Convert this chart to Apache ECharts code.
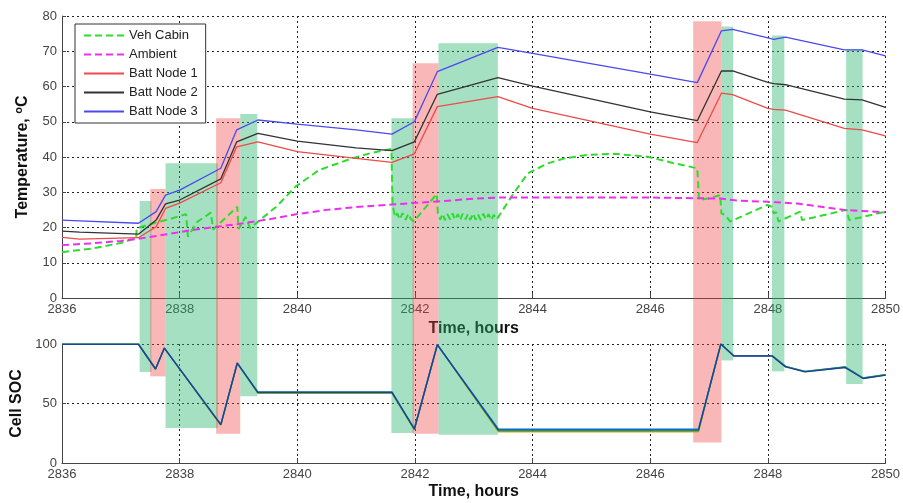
<!DOCTYPE html>
<html>
<head>
<meta charset="utf-8">
<title>Battery temperature and SOC</title>
<script src="https://cdn.jsdelivr.net/npm/echarts@6.0.0/dist/echarts.min.js"></script>
<style>
  html, body { margin: 0; padding: 0; background: #fff; }
  #chart { width: 903px; height: 503px; }
</style>
</head>
<body>
<div id="chart"></div>
<script>
// ---- data ----
const xTicks = [2836, 2850];   // time range, hours

// battery node temperatures (degC)
const battTime = [2836, 2836.3, 2837.3, 2837.6, 2837.76, 2838, 2838.7, 2838.97, 2839.33, 2840, 2841, 2841.61, 2841.99, 2842.38, 2843.41, 2844, 2846, 2846.8, 2847.21, 2847.4, 2848, 2848.1, 2848.3, 2849.3, 2849.6, 2850];
const battNode1 = [17.2, 16.7, 17.1, 20.2, 25.4, 26.9, 32.7, 42.9, 44.3, 41.5, 39.6, 38.5, 40.9, 54.3, 57.1, 53.8, 46.5, 44.1, 58.1, 57.7, 53.8, 53.5, 53.3, 48.1, 47.7, 46.0];
const battNode2 = [19.0, 18.7, 18.1, 22.1, 26.7, 27.8, 33.8, 44.3, 46.7, 44.5, 42.6, 41.8, 44.3, 57.8, 62.5, 60.1, 52.8, 50.3, 64.4, 64.4, 61.2, 60.8, 60.5, 56.4, 56.2, 54.1];
const battNode3 = [22.1, 21.9, 21.2, 24.5, 29.2, 30.6, 36.8, 47.7, 50.5, 49.3, 47.7, 46.5, 50.0, 64.2, 71.1, 69.4, 63.5, 61.1, 75.8, 76.2, 73.8, 73.4, 74.0, 70.4, 70.4, 68.7];

// ambient
const ambTime = [2836, 2836.5, 2837, 2837.3, 2837.75, 2838.3, 2839, 2839.5, 2840, 2840.5, 2841, 2841.6, 2842, 2842.5, 2843, 2843.4, 2844, 2846, 2847.2, 2847.5, 2848, 2848.5, 2849.3, 2850];
const ambTemp = [15.0, 15.5, 16.2, 16.8, 18.0, 19.5, 21.0, 22.3, 23.8, 25.0, 25.8, 26.5, 27.0, 27.5, 28.2, 28.5, 28.5, 28.5, 28.2, 27.6, 27.3, 26.8, 25.0, 24.3];

// vehicle cabin
const cabinTime = [2836, 2836.5, 2837.0, 2837.26, 2837.27, 2837.6, 2837.85, 2838.11, 2838.14, 2838.3, 2838.53, 2838.57, 2838.98, 2839.0, 2839.12, 2839.2, 2839.3, 2839.65, 2839.97, 2840.37, 2840.93, 2841.27, 2841.6,
  2841.62, 2841.66, 2841.7, 2841.74, 2841.79, 2841.84, 2841.89, 2841.93, 2841.98, 2842.37, 2842.39,
  2842.43, 2842.47, 2842.51, 2842.55, 2842.6, 2842.64, 2842.68, 2842.73, 2842.77, 2842.81, 2842.86, 2842.9, 2842.94, 2842.99, 2843.03, 2843.07, 2843.12, 2843.16, 2843.21, 2843.25, 2843.3, 2843.34, 2843.39,
  2843.65, 2843.92, 2844.26, 2844.54, 2844.94, 2845.39, 2845.95, 2846.41, 2846.8, 2846.83, 2847.0, 2847.19, 2847.21, 2847.27, 2847.3, 2847.36, 2847.99, 2848.07, 2848.1, 2848.14, 2848.18, 2848.55, 2848.58, 2849.34, 2849.38, 2850.0];
const cabinTemp = [13.0, 14.0, 15.6, 17.0, 19.8, 21.4, 22.5, 23.8, 17.4, 21.6, 24.2, 19.4, 25.9, 19.6, 23.0, 19.8, 21.2, 26.0, 31.6, 36.3, 39.6, 41.2, 42.3,
  26.4, 23.0, 24.0, 22.3, 24.1, 22.2, 23.9, 22.4, 21.7, 29.5, 24.0,
  22.2, 23.9, 22.1, 23.8, 22.3, 24.0, 22.2, 23.8, 22.1, 23.9, 22.3, 23.8, 22.2, 24.0, 22.2, 23.7, 22.1, 23.9, 22.3, 23.8, 22.1, 23.6, 22.3,
  29.0, 35.4, 38.2, 39.6, 40.6, 40.9, 40.1, 38.2, 36.8, 27.8, 28.3, 29.2, 24.0, 23.6, 24.0, 21.7, 26.4, 25.9, 24.0, 24.4, 21.7, 24.5, 22.1, 25.0, 22.1, 24.5];

// cell state of charge (%)
const socTime = [2836, 2837.3, 2837.59, 2837.74, 2838.7, 2838.98, 2839.33, 2841.61, 2841.99, 2842.38, 2843.42, 2846.82, 2847.2, 2847.42, 2848.07, 2848.3, 2848.63, 2849.31, 2849.62, 2850];
const socCellYellow = [100, 100, 79, 96.6, 31.6, 84, 58.6, 58.6, 27.8, 99.4, 26.2, 26.2, 100, 90.2, 90.2, 81.0, 76.8, 80.5, 71.2, 74.0];
const socCellCyan = [100, 100, 79, 96.6, 32.6, 84, 59.8, 59.8, 29.0, 99.4, 28.6, 28.6, 100, 90.2, 90.2, 81.2, 77.0, 80.7, 71.4, 74.2];
const socCellGreen = [100, 100, 79, 96.6, 32.0, 84, 58.9, 58.9, 28.6, 99.4, 27.0, 27.0, 100, 90.2, 90.2, 81.2, 77.0, 80.7, 71.4, 74.2];
const socCellBlue = [99.7, 99.7, 79, 96.6, 32.2, 84, 59.4, 59.4, 28.4, 99.4, 27.8, 27.8, 100, 89.9, 89.9, 80.8, 76.6, 80.3, 71.0, 73.8];

// shaded windows: drive (green) and charge (pink); top edge in degC, bottom edge in SOC
const driveStart = [2837.32, 2837.76, 2839.03, 2841.60, 2842.40, 2847.21, 2848.07, 2849.33];
const driveEnd = [2837.52, 2838.65, 2839.32, 2841.98, 2843.41, 2847.41, 2848.28, 2849.61];
const driveTop = [27.5, 38.2, 52.2, 51.0, 72.3, 77.0, 74.5, 70.6];
const driveBottom = [76.5, 29.4, 56.0, 25.2, 23.8, 86.2, 77.0, 66.4];
const chargeStart = [2837.50, 2838.62, 2841.96, 2846.73];
const chargeEnd = [2837.76, 2839.03, 2842.40, 2847.21];
const chargeTop = [30.9, 51.0, 66.6, 78.5];
const chargeBottom = [72.8, 24.6, 24.6, 17.3];

// ---- layout ----
const TOP_GRID = { left: 62, right: 14, top: 16, height: 282 };
const BOT_GRID = { left: 62, right: 14, top: 344, height: 119 };
const GRID_GAP = BOT_GRID.top - (TOP_GRID.top + TOP_GRID.height);

const FONT = 'Liberation Sans, Arial, sans-serif';
const GREEN_FILL = 'rgba(40,180,110,0.42)';
const PINK_FILL = 'rgba(240,60,60,0.37)';

function zip(xs, ys) {
  return xs.map((x, i) => [x, ys[i]]);
}

function xAxisOf(gridIndex) {
  return {
    type: 'value', gridIndex: gridIndex,
    min: xTicks[0], max: xTicks[1], interval: 2,
    name: 'Time, hours', nameLocation: 'middle', nameGap: gridIndex === 0 ? 22 : 21,
    nameTextStyle: { fontFamily: FONT, fontWeight: 'bold', fontSize: 16, color: '#111' },
    axisLine: { lineStyle: { color: '#444', width: 1 } },
    axisTick: { inside: true, length: 5, lineStyle: { color: '#444' } },
    axisLabel: { fontFamily: FONT, fontSize: 13, color: '#444', margin: 5, formatter: v => String(v) },
    splitLine: { show: true, lineStyle: { color: '#222', type: [2, 3], width: 1 } }
  };
}

function yAxisOf(gridIndex, max, interval) {
  return {
    type: 'value', gridIndex: gridIndex, min: 0, max: max, interval: interval,
    nameLocation: 'middle',
    axisLine: { show: true, lineStyle: { color: '#444', width: 1 } },
    axisTick: { show: true, inside: true, length: 4, lineStyle: { color: '#444' } },
    axisLabel: { fontFamily: FONT, fontSize: 13, color: '#444', margin: 5 },
    splitLine: { show: true, lineStyle: { color: '#222', type: [2, 3], width: 1 } }
  };
}

// top part of a window: from its top temperature down across the gap to the SOC plot
function topWindow(fill) {
  return function (params, api) {
    const p0 = api.coord([api.value(0), api.value(2)]);
    const p1 = api.coord([api.value(1), 0]);
    return {
      type: 'rect',
      shape: { x: p0[0], y: p0[1], width: p1[0] - p0[0], height: p1[1] + GRID_GAP - p0[1] },
      style: { fill: fill }
    };
  };
}

// bottom part of a window: from the SOC plot top down to its bottom SOC
function bottomWindow(fill) {
  return function (params, api) {
    const p0 = api.coord([api.value(0), 100]);
    const p1 = api.coord([api.value(1), api.value(2)]);
    return {
      type: 'rect',
      shape: { x: p0[0], y: p0[1], width: p1[0] - p0[0], height: p1[1] - p0[1] },
      style: { fill: fill }
    };
  };
}

function windowSeries(gridIndex, starts, ends, edges, fill) {
  return {
    type: 'custom', xAxisIndex: gridIndex, yAxisIndex: gridIndex,
    clip: false, silent: true, z: 1,
    renderItem: gridIndex === 0 ? topWindow(fill) : bottomWindow(fill),
    encode: { x: [0, 1], y: 2 },
    data: starts.map((s, i) => [s, ends[i], edges[i]])
  };
}

function tempLine(name, xs, ys, color, width, dashed) {
  return {
    name: name, type: 'line', xAxisIndex: 0, yAxisIndex: 0,
    symbol: 'none', z: 3,
    lineStyle: { color: color, width: width, type: dashed ? [7, 4] : 'solid' },
    itemStyle: { color: color },
    data: zip(xs, ys)
  };
}

function socLine(ys, color) {
  return {
    type: 'line', xAxisIndex: 1, yAxisIndex: 1, symbol: 'none', z: 3,
    lineStyle: { color: color, width: 1.4 },
    data: zip(socTime, ys)
  };
}

const chart = echarts.init(document.getElementById('chart'), null, { renderer: 'canvas' });

const topY = yAxisOf(0, 80, 10);
topY.name = '{a|Temperature, }{sup|o}{a|C}';
topY.nameGap = 30;
topY.nameTextStyle = {
  rich: {
    a: { fontFamily: FONT, fontWeight: 'bold', fontSize: 16, color: '#111' },
    sup: { fontFamily: FONT, fontWeight: 'bold', fontSize: 11, color: '#111', padding: [0, 0, 8, 0] }
  }
};
const botY = yAxisOf(1, 100, 50);
botY.name = 'Cell SOC';
botY.nameGap = 36;
botY.nameTextStyle = { fontFamily: FONT, fontWeight: 'bold', fontSize: 16, color: '#111' };

const option = {
  animation: false,
  backgroundColor: '#fff',
  grid: [TOP_GRID, BOT_GRID],
  legend: {
    orient: 'vertical', left: 75, top: 24,
    padding: [5, 8, 5, 8], itemGap: 6,
    itemWidth: 40, itemHeight: 14,
    backgroundColor: '#fff', borderColor: '#333', borderWidth: 1,
    itemStyle: { opacity: 0 },
    textStyle: { fontFamily: FONT, fontSize: 13, color: '#222' },
    data: ['Veh Cabin', 'Ambient', 'Batt Node 1', 'Batt Node 2', 'Batt Node 3']
  },
  xAxis: [xAxisOf(0), xAxisOf(1)],
  yAxis: [topY, botY],
  series: [
    windowSeries(0, driveStart, driveEnd, driveTop, GREEN_FILL),
    windowSeries(0, chargeStart, chargeEnd, chargeTop, PINK_FILL),
    windowSeries(1, driveStart, driveEnd, driveBottom, GREEN_FILL),
    windowSeries(1, chargeStart, chargeEnd, chargeBottom, PINK_FILL),
    tempLine('Veh Cabin', cabinTime, cabinTemp, '#2edc2e', 2, true),
    tempLine('Ambient', ambTime, ambTemp, '#ee2eee', 2, true),
    tempLine('Batt Node 1', battTime, battNode1, '#ee4a4a', 1.3, false),
    tempLine('Batt Node 2', battTime, battNode2, '#333333', 1.3, false),
    tempLine('Batt Node 3', battTime, battNode3, '#4a4aee', 1.3, false),
    socLine(socCellYellow, '#c8b400'),
    socLine(socCellCyan, '#22b4e6'),
    socLine(socCellGreen, '#2a9a4a'),
    socLine(socCellBlue, '#1f3f9f')
  ]
};

chart.setOption(option);
window.addEventListener('resize', function () {
  chart.resize();
});
</script>
</body>
</html>
